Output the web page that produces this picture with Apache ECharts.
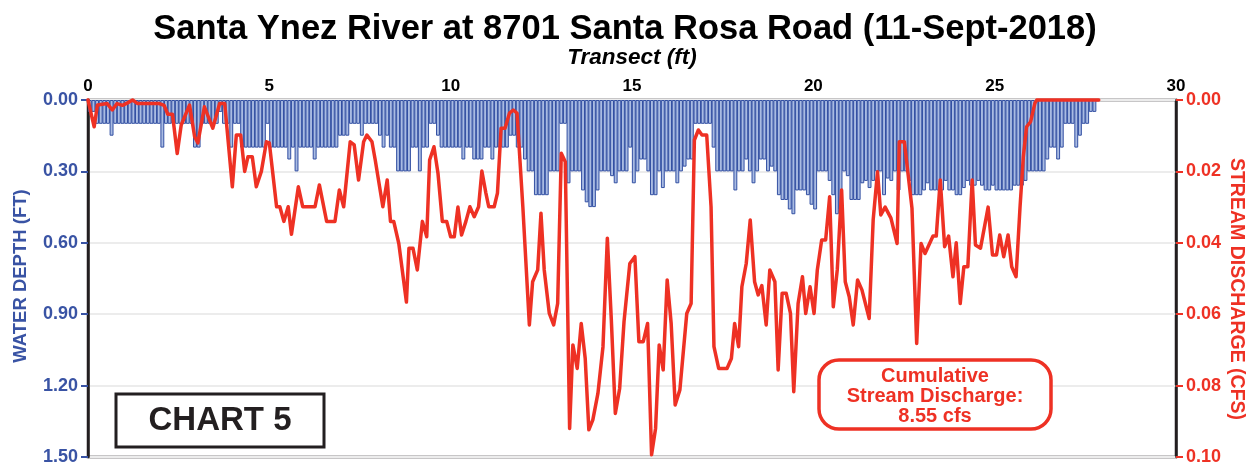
<!DOCTYPE html>
<html>
<head>
<meta charset="utf-8">
<script src="https://cdn.jsdelivr.net/npm/echarts@6/dist/echarts.min.js"></script>
<style>
html,body{margin:0;padding:0;background:#fff;}
#chart{width:1251px;height:466px;}
</style>
</head>
<body>
<div id="chart"></div>
<script>
// ---- DATA ----
const titleText = "Santa Ynez River at 8701 Santa Rosa Road (11-Sept-2018)";
const xAxisTitle = "Transect (ft)";
const leftAxisTitle = "WATER DEPTH (FT)";
const rightAxisTitle = "STREAM DISCHARGE (CFS)";
const xTicks = [0, 5, 10, 15, 20, 25, 30];
const depthTicks = [0.0, 0.3, 0.6, 0.9, 1.2, 1.5];
const dischargeTicks = [0.0, 0.02, 0.04, 0.06, 0.08, 0.1];

// measurement stations every 0.1 ft (bar centres), depth in ft
const stationStart = 0.05;
const stationStep = 0.1;
const waterDepth = [
  0.05,0.05,0.1,0.1,0.1,0.1,0.15,0.1,0.1,0.1,
  0.1,0.1,0.1,0.1,0.1,0.1,0.1,0.1,0.1,0.1,
  0.2,0.1,0.1,0.1,0.1,0.1,0.1,0.1,0.1,0.2,
  0.2,0.1,0.1,0.1,0.1,0.1,0.05,0.1,0.1,0.2,
  0.1,0.1,0.2,0.2,0.2,0.2,0.2,0.2,0.2,0.1,
  0.2,0.2,0.2,0.2,0.2,0.25,0.2,0.3,0.2,0.2,
  0.2,0.2,0.25,0.2,0.2,0.2,0.2,0.2,0.2,0.15,
  0.15,0.15,0.1,0.1,0.1,0.15,0.1,0.1,0.1,0.1,
  0.15,0.2,0.15,0.2,0.2,0.3,0.3,0.3,0.3,0.2,
  0.2,0.3,0.2,0.2,0.1,0.1,0.15,0.2,0.2,0.2,
  0.2,0.2,0.2,0.25,0.2,0.2,0.25,0.25,0.25,0.2,
  0.2,0.25,0.2,0.2,0.2,0.2,0.15,0.15,0.2,0.2,
  0.25,0.3,0.3,0.4,0.4,0.4,0.4,0.3,0.3,0.3,
  0.1,0.1,0.35,0.3,0.3,0.3,0.38,0.43,0.45,0.45,
  0.38,0.3,0.3,0.3,0.32,0.35,0.3,0.3,0.3,0.2,
  0.35,0.3,0.25,0.25,0.3,0.4,0.4,0.3,0.37,0.3,
  0.3,0.3,0.35,0.3,0.28,0.25,0.25,0.1,0.1,0.1,
  0.1,0.1,0.2,0.3,0.3,0.3,0.3,0.3,0.38,0.3,
  0.3,0.25,0.3,0.35,0.3,0.25,0.25,0.3,0.28,0.3,
  0.4,0.42,0.42,0.46,0.48,0.38,0.38,0.38,0.4,0.44,
  0.46,0.3,0.3,0.3,0.34,0.4,0.48,0.46,0.3,0.32,
  0.42,0.42,0.42,0.35,0.34,0.37,0.34,0.3,0.3,0.4,
  0.33,0.34,0.3,0.38,0.3,0.3,0.34,0.4,0.4,0.4,
  0.38,0.35,0.38,0.38,0.38,0.38,0.34,0.38,0.38,0.4,
  0.4,0.37,0.34,0.36,0.36,0.34,0.36,0.38,0.38,0.36,
  0.38,0.38,0.38,0.38,0.38,0.36,0.36,0.36,0.34,0.3,
  0.3,0.3,0.3,0.3,0.25,0.2,0.2,0.25,0.2,0.1,
  0.1,0.1,0.2,0.15,0.1,0.1,0.05,0.05
];

// stream discharge line (ft, cfs)
const dischargeFt = [
  0.00,0.17,0.26,0.53,0.67,0.80,0.95,1.09,1.23,1.37,1.97,2.10,2.20,2.33,2.46,2.57,2.80,2.94,3.03,3.21,
  3.44,3.63,3.77,3.98,4.09,4.21,4.32,4.41,4.53,4.64,4.78,4.92,5.00,5.20,5.29,5.40,5.52,5.61,5.80,5.92,
  6.26,6.38,6.58,6.81,6.93,7.05,7.23,7.34,7.46,7.60,7.69,7.83,7.92,8.13,8.25,8.34,8.43,8.57,8.78,8.85,
  8.96,9.08,9.22,9.34,9.42,9.54,9.65,9.77,9.89,10.00,10.10,10.20,10.30,10.42,10.53,10.65,10.77,10.86,10.97,11.05,
  11.20,11.29,11.39,11.50,11.62,11.73,11.83,11.99,12.17,12.26,12.40,12.49,12.58,12.72,12.84,12.95,13.05,13.16,13.28,13.37,
  13.49,13.60,13.71,13.81,13.92,14.06,14.20,14.32,14.43,14.54,14.66,14.78,14.94,15.08,15.19,15.31,15.43,15.54,15.65,15.75,
  15.86,15.97,16.08,16.19,16.32,16.51,16.63,16.72,16.83,16.93,17.06,17.18,17.26,17.39,17.62,17.74,17.83,17.94,18.03,18.15,
  18.26,18.38,18.48,18.58,18.70,18.80,18.94,19.03,19.14,19.25,19.37,19.46,19.58,19.70,19.79,19.91,20.02,20.11,20.23,20.34,
  20.45,20.55,20.66,20.78,20.88,20.99,21.10,21.22,21.34,21.54,21.65,21.77,21.86,21.98,22.14,22.31,22.37,22.51,22.72,22.85,
  22.97,23.08,23.30,23.39,23.50,23.62,23.73,23.85,23.94,24.05,24.15,24.26,24.38,24.47,24.61,24.82,24.94,25.05,25.14,25.25,
  25.37,25.47,25.59,25.70,25.79,25.88,25.99,26.11,26.16,27.87
];
const dischargeCfs = [
  0.0000,0.0075,0.0014,0.0010,0.0028,0.0010,0.0015,0.0008,0.0000,0.0010,0.0010,0.0015,0.0040,0.0040,0.0150,0.0070,0.0014,0.0103,0.0120,0.0019,
  0.0079,0.0010,0.0010,0.0243,0.0098,0.0098,0.0200,0.0159,0.0159,0.0243,0.0200,0.0117,0.0120,0.0299,0.0299,0.0340,0.0299,0.0376,0.0243,0.0299,
  0.0299,0.0238,0.0340,0.0340,0.0252,0.0299,0.0117,0.0126,0.0224,0.0117,0.0098,0.0117,0.0168,0.0299,0.0224,0.0340,0.0340,0.0402,0.0566,0.0415,
  0.0415,0.0476,0.0340,0.0383,0.0168,0.0131,0.0205,0.0340,0.0340,0.0383,0.0383,0.0300,0.0378,0.0340,0.0299,0.0327,0.0299,0.0199,0.0260,0.0299,
  0.0299,0.0261,0.0079,0.0079,0.0037,0.0028,0.0037,0.0299,0.0630,0.0509,0.0476,0.0317,0.0476,0.0598,0.0630,0.0570,0.0149,0.0173,0.0920,0.0686,
  0.0752,0.0626,0.0724,0.0924,0.0896,0.0822,0.0691,0.0387,0.0616,0.0878,0.0808,0.0621,0.0458,0.0439,0.0677,0.0677,0.0626,0.0994,0.0920,0.0686,
  0.0756,0.0504,0.0626,0.0854,0.0812,0.0598,0.0570,0.0112,0.0084,0.0098,0.0098,0.0299,0.0691,0.0752,0.0752,0.0724,0.0626,0.0691,0.0523,0.0458,
  0.0336,0.0509,0.0546,0.0520,0.0630,0.0476,0.0509,0.0756,0.0541,0.0541,0.0598,0.0817,0.0570,0.0495,0.0598,0.0523,0.0598,0.0476,0.0392,0.0392,
  0.0271,0.0579,0.0476,0.0252,0.0509,0.0551,0.0630,0.0504,0.0532,0.0612,0.0336,0.0201,0.0322,0.0300,0.0331,0.0402,0.0117,0.0117,0.0303,0.0682,
  0.0402,0.0430,0.0381,0.0381,0.0224,0.0411,0.0381,0.0495,0.0400,0.0570,0.0467,0.0467,0.0224,0.0406,0.0415,0.0300,0.0434,0.0434,0.0378,0.0439,
  0.0378,0.0467,0.0495,0.0299,0.0159,0.0075,0.0061,0.0009,0.0000,0.0000
];
const chartLabel = "CHART 5";
const noteLines = ["Cumulative", "Stream Discharge:", "8.55 cfs"];

// ---- CHART ----
const FONT = '"Liberation Sans", Arial, Helvetica, sans-serif';
const BLUE = '#3953a4';
const RED = '#ee3124';
const DARK = '#231f20';

const barData = waterDepth.map((d, i) => [+(stationStart + i * stationStep).toFixed(2), d]);
const lineData = dischargeFt.map((x, i) => [x, dischargeCfs[i]]);

const chart = echarts.init(document.getElementById('chart'), null, {renderer: 'canvas'});
const L = 88, R = 1176, T = 100, B = 457;

chart.setOption({
  animation: false,
  backgroundColor: '#fff',
  grid: {left: L, right: 1251 - R, top: T, bottom: 466 - B, show: true, borderColor: DARK, borderWidth: 2.5, containLabel: false},
  xAxis: {
    type: 'value', position: 'top', min: xTicks[0], max: xTicks[xTicks.length - 1], interval: 5,
    axisLine: {show: false}, axisTick: {show: false}, splitLine: {show: false},
    axisLabel: {color: '#000', fontFamily: FONT, fontWeight: 'bold', fontSize: 17, margin: 5}
  },
  yAxis: [
    {
      type: 'value', inverse: true, min: depthTicks[0], max: depthTicks[depthTicks.length - 1], interval: 0.3,
      axisLine: {show: true, lineStyle: {color: DARK, width: 2.5}},
      axisTick: {show: true, length: 7, lineStyle: {color: BLUE, width: 2}},
      splitLine: {show: true, lineStyle: {color: '#ececec', width: 2}},
      axisLabel: {color: BLUE, fontFamily: FONT, fontWeight: 'bold', fontSize: 18, margin: 10,
        formatter: v => v.toFixed(2)}
    },
    {
      type: 'value', inverse: true, position: 'right', min: dischargeTicks[0], max: dischargeTicks[dischargeTicks.length - 1], interval: 0.02,
      axisLine: {show: true, lineStyle: {color: DARK, width: 2.5}},
      axisTick: {show: true, length: 7, lineStyle: {color: RED, width: 2}},
      splitLine: {show: false},
      axisLabel: {color: RED, fontFamily: FONT, fontWeight: 'bold', fontSize: 18, margin: 10,
        formatter: v => v.toFixed(2)}
    }
  ],
  series: [
    {
      type: 'bar', yAxisIndex: 0, data: barData, barWidth: 3.9,
      itemStyle: {color: '#a9bbe2', borderColor: '#3350a3', borderWidth: 1},
      z: 2
    },
    {
      type: 'line', yAxisIndex: 1, data: lineData, symbol: 'none', clip: false,
      lineStyle: {color: RED, width: 3.5, join: 'round', cap: 'round'},
      z: 5
    }
  ],
  graphic: [
    {type: 'text', x: 625, y: 29, style: {text: titleText, fontFamily: FONT, fontWeight: 'bold', fontSize: 34.5, fill: '#000', textAlign: 'center', textVerticalAlign: 'middle'}},
    {type: 'text', x: 632, y: 58, style: {text: xAxisTitle, fontFamily: FONT, fontWeight: 'bold', fontStyle: 'italic', fontSize: 22.5, fill: '#000', textAlign: 'center', textVerticalAlign: 'middle'}},
    {type: 'text', x: 21, y: 276, rotation: Math.PI / 2, style: {text: leftAxisTitle, fontFamily: FONT, fontWeight: 'bold', fontSize: 18.5, fill: BLUE, textAlign: 'center', textVerticalAlign: 'middle'}},
    {type: 'text', x: 1236, y: 289, rotation: -Math.PI / 2, style: {text: rightAxisTitle, fontFamily: FONT, fontWeight: 'bold', fontSize: 19.5, fill: RED, textAlign: 'center', textVerticalAlign: 'middle'}},
    {type: 'rect', shape: {x: 116, y: 394, width: 208, height: 53}, style: {fill: '#fff', stroke: DARK, lineWidth: 3}, z: 10},
    {type: 'text', x: 220, y: 421, z: 11, style: {text: chartLabel, fontFamily: FONT, fontWeight: 'bold', fontSize: 33, fill: DARK, textAlign: 'center', textVerticalAlign: 'middle'}},
    {type: 'rect', shape: {x: 819, y: 360, width: 232, height: 69, r: 20}, style: {fill: '#fff', stroke: RED, lineWidth: 3.5}, z: 10},
    {type: 'text', x: 935, y: 396, z: 11, style: {text: noteLines.join('\n'), fontFamily: FONT, fontWeight: 'bold', fontSize: 20, lineHeight: 20, fill: RED, textAlign: 'center', textVerticalAlign: 'middle'}}
  ]
});
</script>
</body>
</html>
